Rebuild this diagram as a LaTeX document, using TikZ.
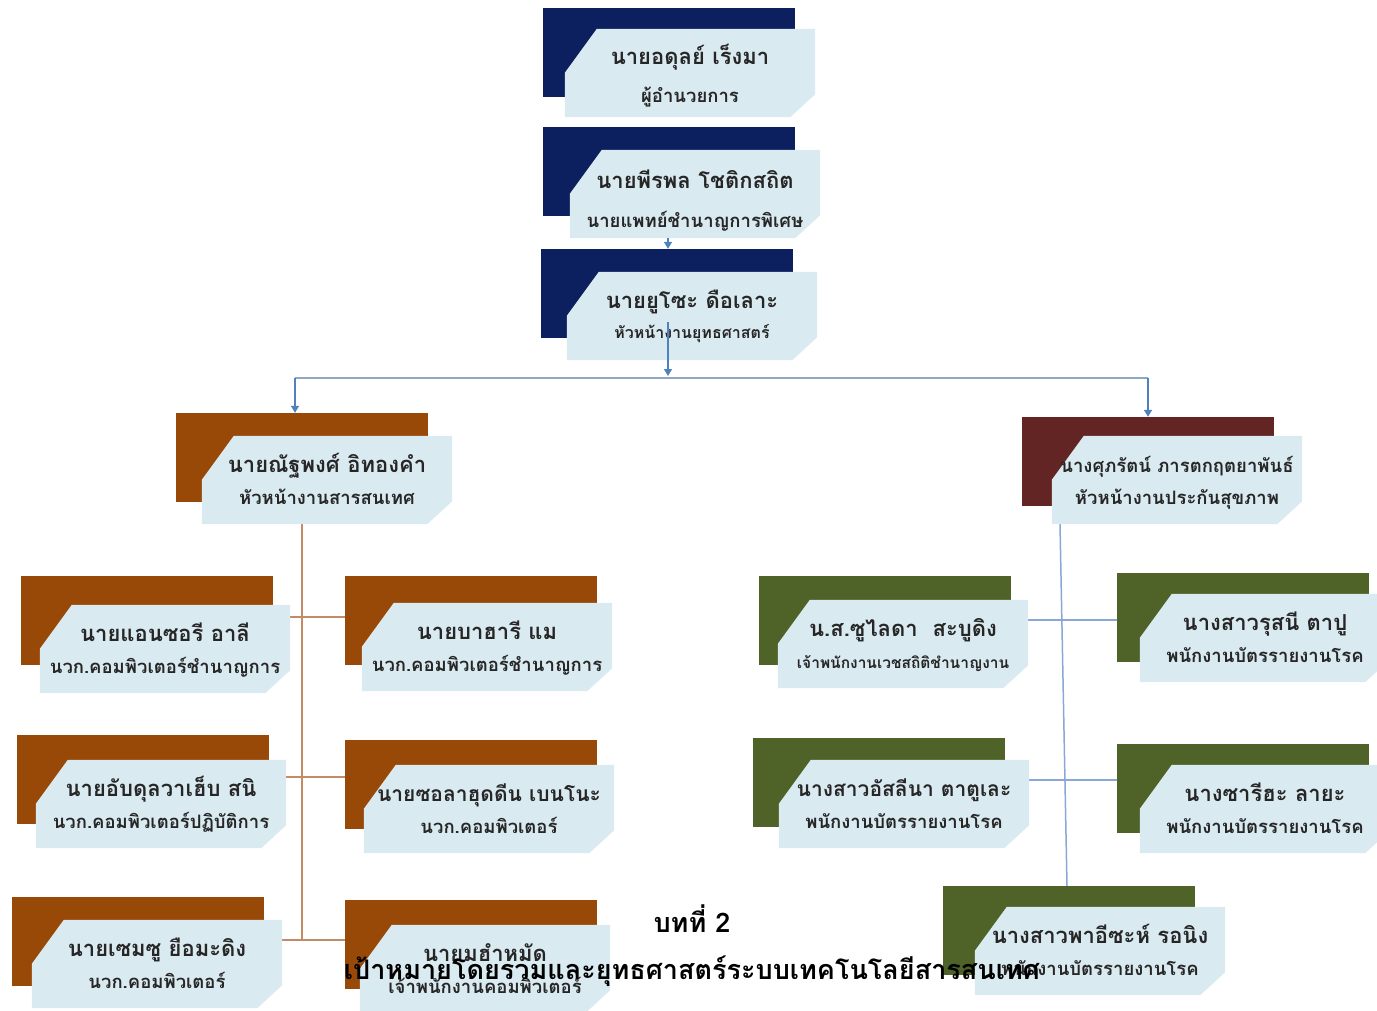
\documentclass[tikz,border=0pt]{standalone}
\usepackage{fontspec}
\newfontfamily\thai[Script=Thai]{Loma}
\usetikzlibrary{arrows.meta,calc}
\pgfdeclarelayer{lines}
\pgfdeclarelayer{cards}
\pgfsetlayers{lines,cards,main}
\definecolor{navy}{HTML}{0C1F5E}
\definecolor{brownc}{HTML}{984807}
\definecolor{maroon}{HTML}{632523}
\definecolor{olive}{HTML}{4F6228}
\definecolor{paleblue}{HTML}{DAEAF1}
\definecolor{txt}{HTML}{262626}
\definecolor{tanline}{HTML}{C38B65}
\definecolor{blueline}{HTML}{8AA8D6}
\definecolor{arrowblue}{HTML}{4F81BD}
\definecolor{topline}{HTML}{8FA6C4}
\tikzset{
  backbox/.style={rectangle, inner sep=0pt, minimum width=252pt, minimum height=89pt, draw=none},
  frontbox/.style={rectangle, inner sep=0pt, minimum width=250pt, minimum height=88pt, draw=none},
  nametext/.style={font=\thai\bfseries\fontsize{22}{24}\selectfont, text=txt, anchor=base, inner sep=0pt},
  roletext/.style={font=\thai\bfseries\fontsize{18.5}{20}\selectfont, text=txt, anchor=base, inner sep=0pt},
  arr/.style={draw=arrowblue, line width=1.3pt, -{Triangle[width=8pt,length=7pt]}},
  tline/.style={draw=tanline, line width=1.5pt},
  bline/.style={draw=blueline, line width=1.5pt},
  hline/.style={draw=topline, line width=1.5pt},
  headtext/.style={font=\thai\bfseries\fontsize{27}{30}\selectfont, text=black, anchor=base, inner sep=0pt}
}
\newcommand\nameoff{-8}
\newcommand\roleoff{24}
% #1 name, #2 #3 dark top-left, #4 #5 light top-left, #6 colour, #7 name line, #8 role line
\newcommand\orgcard[8]{%
  \node[frontbox] (#1) at (#4+125,#5+44) {};
  \node[nametext] (#1-n) at ($(#1.center)+(0,\nameoff)$) {#7};
  \node[roletext] (#1-r) at ($(#1.center)+(0,\roleoff)$) {#8};
  \begin{pgfonlayer}{cards}
    \node[backbox,fill=#6] (#1-b) at (#2+126,#3+44.5) {};
    \fill[paleblue] ($(#1.north west)+(32,0)$) -- (#1.north east)
      -- ($(#1.south east)+(0,-23)$) -- ($(#1.south east)+(-25,0)$)
      -- (#1.south west) -- ($(#1.north west)+(0,44)$) -- cycle;
  \end{pgfonlayer}
}
\begin{document}
\begin{tikzpicture}[x=1pt,y=-1pt]
\begin{pgfonlayer}{lines}
  \fill[white] (0,0) rectangle (1377,1010);
\end{pgfonlayer}
\useasboundingbox (0,0) rectangle (1377,1010);

{\renewcommand\nameoff{-9}\renewcommand\roleoff{29}%
\orgcard{c1}{543}{8}{565}{29}{navy}{นายอดุลย์ เร็งมา}{ผู้อำนวยการ}}
{\renewcommand\nameoff{-6}\renewcommand\roleoff{33}%
\orgcard{c2}{543}{127}{570}{150}{navy}{นายพีรพล โชติกสถิต}{นายแพทย์ชำนาญการพิเศษ}}
{\renewcommand\roleoff{22}%
\orgcard{c3}{541}{249}{567}{272}{navy}{นายยูโซะ ดือเลาะ}{\fontsize{16}{18}\selectfont หัวหน้างานยุทธศาสตร์}}
\orgcard{LM}{176}{413}{202}{436}{brownc}{นายณัฐพงศ์ อิทองคำ}{หัวหน้างานสารสนเทศ}
\orgcard{RM}{1022}{417}{1052}{436}{maroon}{\fontsize{18.5}{20}\selectfont นางศุภรัตน์ ภารตกฤตยาพันธ์}{หัวหน้างานประกันสุขภาพ}

\orgcard{A}{21}{576}{40}{605}{brownc}{นายแอนซอรี อาลี}{นวก.คอมพิวเตอร์ชำนาญการ}
\orgcard{B}{345}{576}{362}{603}{brownc}{นายบาฮารี แม}{นวก.คอมพิวเตอร์ชำนาญการ}
\orgcard{C}{17}{735}{36}{760}{brownc}{นายอับดุลวาเฮ็บ สนิ}{นวก.คอมพิวเตอร์ปฏิบัติการ}
\orgcard{D}{345}{740}{364}{765}{brownc}{\fontsize{21}{23}\selectfont นายซอลาฮุดดีน เบนโนะ}{นวก.คอมพิวเตอร์}
\orgcard{E}{12}{897}{32}{920}{brownc}{นายเซมซู ยือมะดิง}{นวก.คอมพิวเตอร์}
\orgcard{F}{345}{900}{360}{925}{brownc}{นายมฮำหมัด}{เจ้าพนักงานคอมพิวเตอร์}

\orgcard{H}{759}{576}{778}{600}{olive}{น.ส.ซูไลดา\ \ สะบูดิง}{\fontsize{15.5}{18}\selectfont เจ้าพนักงานเวชสถิติชำนาญงาน}
\orgcard{I}{1117}{573}{1140}{594}{olive}{นางสาวรุสนี ตาปู}{พนักงานบัตรรายงานโรค}
\orgcard{J}{753}{738}{779}{760}{olive}{\fontsize{21}{23}\selectfont นางสาวอัสลีนา ตาตูเละ}{พนักงานบัตรรายงานโรค}
\orgcard{K}{1117}{744}{1140}{765}{olive}{นางซารีฮะ ลายะ}{พนักงานบัตรรายงานโรค}
\orgcard{G}{943}{886}{975}{907}{olive}{นางสาวพาอีซะห์ รอนิง}{พนักงานบัตรรายงานโรค}

% junction coordinates
\coordinate (jt) at (668,376);
\coordinate (hl) at (295,378);
\coordinate (hr) at (1148,378);
\coordinate (lt0) at (302,0);
\coordinate (lt1) at (302,617);
\coordinate (lt2) at (302,777);
\coordinate (lt3) at (302,940);
\coordinate (rtop) at (1060,0);
\coordinate (rbot) at (1067,0);
\coordinate (rt1) at (1063,620);
\coordinate (rt2) at (1063,780);

% top connectors
\draw[arr] (c2.south -| jt) -- (c3-b.north -| jt);
\draw[arr] ($(c3.center -| jt)+(0,6)$) -- (jt);
\begin{pgfonlayer}{lines}
  \draw[hline] (hl) -- (hr);
\end{pgfonlayer}
\draw[arr] (hl) -- (LM-b.north -| hl);
\draw[arr] (hr) -- (RM-b.north -| hr);

\begin{pgfonlayer}{lines}
  % left tree
  \draw[tline] (LM.south -| lt0) -- (lt3);
  \draw[tline] (A.east |- lt1) -- (B-b.west |- lt1);
  \draw[tline] (C.east |- lt2) -- (D-b.west |- lt2);
  \draw[tline] (E.east |- lt3) -- (F-b.west |- lt3);
  % right tree
  \draw[bline] (RM.south -| rtop) -- (G-b.north -| rbot);
  \draw[bline] (H.east |- rt1) -- (I-b.west |- rt1);
  \draw[bline] (J.east |- rt2) -- (K-b.west |- rt2);
\end{pgfonlayer}

% overlay heading
\node[headtext] (chap) at (692,932) {บทที่ 2};
\node[headtext] (title) at (692,979) {เป้าหมายโดยรวมและยุทธศาสตร์ระบบเทคโนโลยีสารสนเทศ};
\end{tikzpicture}
\end{document}
